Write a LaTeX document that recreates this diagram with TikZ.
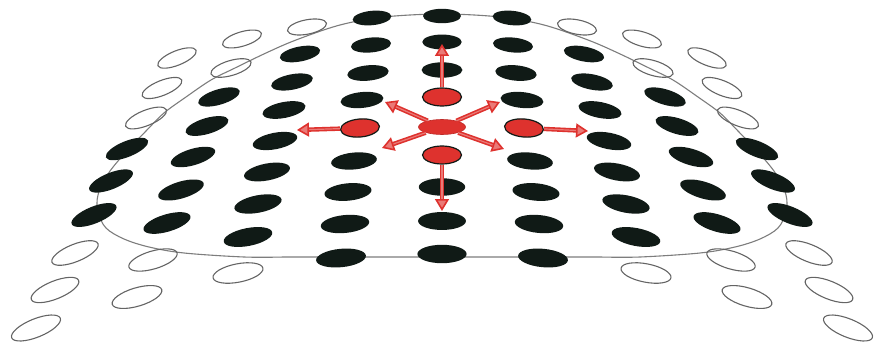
\documentclass[tikz,border=0pt]{standalone}
\usepackage{xcolor}
\usepackage{tikz}
\usetikzlibrary{arrows.meta,shapes.geometric}
\definecolor{ink}{RGB}{16,26,22}
\definecolor{hollow}{RGB}{100,100,100}
\definecolor{rimgray}{RGB}{125,125,125}
\definecolor{hot}{RGB}{222,50,46}
% mirrored pair of the array: #1 column, #2 row, #3 offset from axis, #4 y, #5 style
\newcommand{\twin}[5]{%
  \pgfmathsetmacro{\cellrx}{19+0.7*#2+0.4*#1}%
  \pgfmathsetmacro{\cellry}{7.2+0.25*#2}%
  \path[#5,rotate around={5.5*#1:(442-#3,#4)}] (442-#3,#4) ellipse [x radius=\cellrx, y radius=\cellry];
  \path[#5,rotate around={-5.5*#1:(442+#3,#4)}] (442+#3,#4) ellipse [x radius=\cellrx, y radius=\cellry];}

\begin{document}
\begin{tikzpicture}[x=1pt,y=-1pt,
  dot/.style={fill=ink},
  ring/.style={draw=hollow,line width=1.1pt},
  gap/.style={},
  rim/.style={draw=rimgray,line width=1.1pt},
  hotspot/.style={ellipse,fill=hot,draw=ink,line width=1.2pt,minimum width=39pt,minimum height=18pt,inner sep=0pt},
  hub/.style={ellipse,fill=hot,draw=hot!85!black,line width=0.6pt,minimum width=47pt,minimum height=15pt,inner sep=0pt},
  spread/.style={draw=hot,line width=1.6pt,double=hot!65,double distance=1.2pt,
    -{Triangle[open,fill=hot!65,length=12pt,width=14pt]}}]
\useasboundingbox (0,0) rectangle (886,345);
% ---- outline of the patch ----
\draw[rim] plot[smooth,tension=0.55] coordinates {(600,257) (640,257) (700,253) (735,247) (760,239)
  (778,228) (786,212) (786,195) (776,174) (759,153) (738,131) (720,113) (698,97) (673,80) (649,68)
  (618,53) (588,40) (544,25) (500,17) (442,14) (384,17) (340,25) (296,40) (266,53) (235,68) (211,80)
  (186,97) (164,113) (146,131) (125,153) (108,174) (98,195) (98,212) (106,228) (124,239) (149,247)
  (184,253) (244,257) (284,257)} -- cycle;
% ---- centre column ----
\foreach \r/\y in {0/16,1/42,2/70,6/187,7/221,8/254}{
  \pgfmathsetmacro{\cellrx}{19+0.7*\r}
  \pgfmathsetmacro{\cellry}{7.2+0.25*\r}
  \path[dot] (442,\y) ellipse [x radius=\cellrx, y radius=\cellry];}
% ---- side columns, left and right ----
\foreach \r/\dx/\y/\s in {0/70/18/dot,1/71/45/dot,2/74/73/dot,3/80/100/dot,4/82/128/gap,
  5/88/161/dot,6/94/192/dot,7/97/224/dot,8/101/258/dot}
  \twin{1}{\r}{\dx}{\y}{\s};
\foreach \r/\dx/\y/\s in {0/135/27/ring,1/142/54/dot,2/150/82/dot,3/158/110/dot,4/167/141/dot,
  5/175/172/dot,6/184/204/dot,7/194/237/dot,8/204/273/ring}
  \twin{2}{\r}{\dx}{\y}{\s};
\foreach \r/\dx/\y/\s in {0/200/39/ring,1/211/68/ring,2/223/97/dot,3/235/126/dot,4/249/157/dot,
  5/261/190/dot,6/275/223/dot,7/289/260/ring,8/305/297/ring}
  \twin{3}{\r}{\dx}{\y}{\s};
\foreach \r/\dx/\y/\s in {0/265/58/ring,1/280/88/ring,2/296/118/ring,3/315/149/dot,4/331/181/dot,
  5/348/215/dot,6/367/253/ring,7/387/290/ring,8/406/328/ring}
  \twin{4}{\r}{\dx}{\y}{\s};
% ---- red group and its arrows ----
\node[hotspot] (up) at (442,97) {};
\node[hotspot] (down) at (442,155) {};
\node[hotspot,rotate=5] (west) at (360,128) {};
\node[hotspot,rotate=-5] (east) at (524,128) {};
\node[hub] (hub) at (442,127) {};
\coordinate (upT) at (442,44);
\coordinate (downT) at (442,211);
\coordinate (westT) at (297,130);
\coordinate (eastT) at (588,131);
\coordinate (nwT) at (385,102);
\coordinate (neT) at (500,102);
\coordinate (swT) at (382,148);
\coordinate (seT) at (504,149);
\draw[spread] (up) -- (upT);
\draw[spread] (down) -- (downT);
\draw[spread] (west) -- (westT);
\draw[spread] (east) -- (eastT);
\draw[spread] (hub) -- (nwT);
\draw[spread] (hub) -- (neT);
\draw[spread] (hub) -- (swT);
\draw[spread] (hub) -- (seT);
\end{tikzpicture}
\end{document}
